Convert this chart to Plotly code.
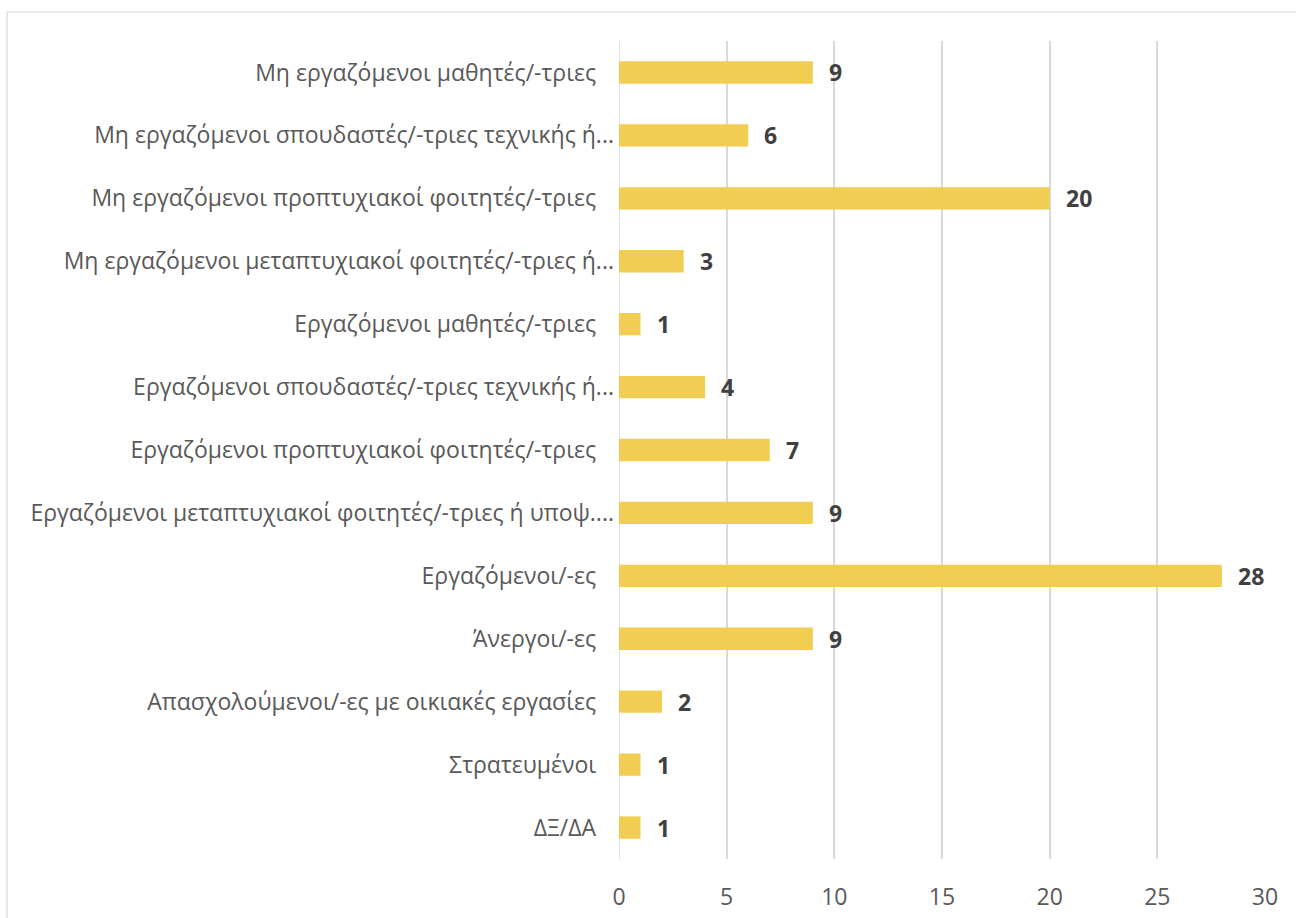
import plotly.graph_objects as go

categories = [
    "Μη εργαζόμενοι μαθητές/-τριες",
    "Μη εργαζόμενοι σπουδαστές/-τριες τεχνικής ή...",
    "Μη εργαζόμενοι προπτυχιακοί φοιτητές/-τριες",
    "Μη εργαζόμενοι μεταπτυχιακοί φοιτητές/-τριες ή...",
    "Εργαζόμενοι μαθητές/-τριες",
    "Εργαζόμενοι σπουδαστές/-τριες τεχνικής ή...",
    "Εργαζόμενοι προπτυχιακοί φοιτητές/-τριες",
    "Εργαζόμενοι μεταπτυχιακοί φοιτητές/-τριες ή υποψ....",
    "Εργαζόμενοι/-ες",
    "Άνεργοι/-ες",
    "Απασχολούμενοι/-ες με οικιακές εργασίες",
    "Στρατευμένοι",
    "ΔΞ/ΔΑ",
]
values = [9, 6, 20, 3, 1, 4, 7, 9, 28, 9, 2, 1, 1]
x_ticks = [0, 5, 10, 15, 20, 25, 30]

FONT = "Open Sans"
BAR_COLOR = "#F1CD52"
GRID = "#D9D9D9"
FS = 23

# untruncated labels carry a trailing gap, as in the original
tick_text = [c if c.endswith("...") else c + "   " for c in categories]

fig = go.Figure()
fig.add_trace(go.Bar(
    x=values, y=categories, orientation="h",
    marker=dict(color=BAR_COLOR, line=dict(width=0)),
    width=0.355, hoverinfo="x+y",
))

annotations = [
    dict(x=v, y=c, xref="x", yref="y", text=f"<b>{v}</b>", showarrow=False,
         xanchor="left", yanchor="middle", xshift=14,
         font=dict(family=FONT, size=FS, color="#404040"))
    for c, v in zip(categories, values)
]

W, H = 1296, 918
L, R, T, B = 619, 31, 41, 59
pw, ph = W - L - R, H - T - B

def px_x(p):
    return (p - L) / pw

def px_y(p):
    return (H - B - p) / ph

fig.update_layout(
    width=W, height=H,
    margin=dict(l=L, r=R, t=T, b=B, pad=0, autoexpand=False),
    paper_bgcolor="white", plot_bgcolor="white",
    showlegend=False,
    annotations=annotations,
    font=dict(family=FONT, size=FS, color="#595959"),
    xaxis=dict(
        range=[0, 30], tickvals=x_ticks, showgrid=True, gridcolor=GRID, gridwidth=1.5,
        zeroline=False, showline=False, ticks="", ticklabelstandoff=22,
        automargin=False,
        tickfont=dict(family=FONT, size=FS, color="#595959"), fixedrange=True,
    ),
    yaxis=dict(
        categoryorder="array", categoryarray=categories, autorange="reversed",
        tickmode="array", tickvals=categories, ticktext=tick_text,
        showgrid=False, zeroline=False, showline=False, ticks="",
        ticklabelstandoff=4, automargin=False,
        tickfont=dict(family=FONT, size=FS, color="#595959"),
    ),
    shapes=[
        dict(type="rect", xref="paper", yref="paper",
             x0=px_x(7), x1=px_x(1400), y0=px_y(1000), y1=px_y(12),
             line=dict(color=GRID, width=1.2), fillcolor="rgba(0,0,0,0)", layer="below"),
        dict(type="line", xref="x", yref="paper", x0=0, x1=0, y0=0, y1=1,
             line=dict(color=GRID, width=1.5), layer="below"),
    ],
)

fig.write_html("out.html", config={"displayModeBar": False},
               post_script="document.body.style.margin='0px';")
